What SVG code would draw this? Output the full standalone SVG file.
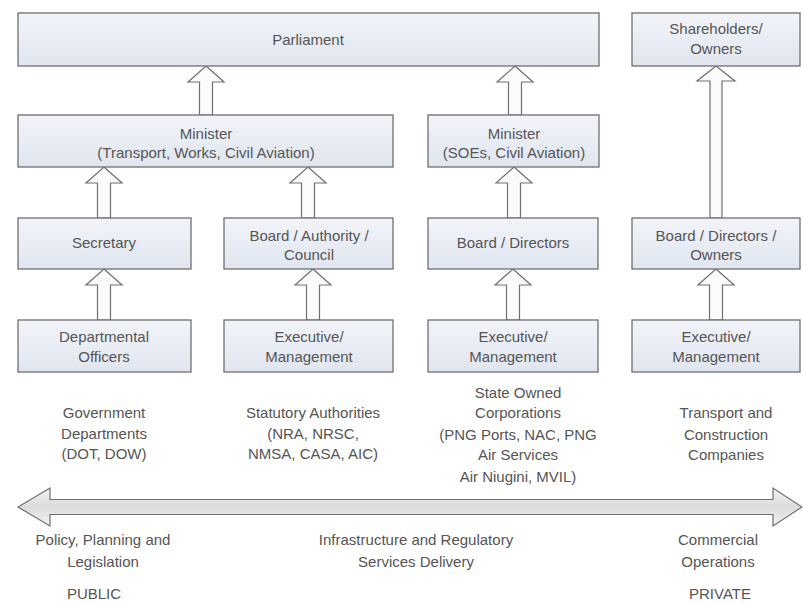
<svg xmlns="http://www.w3.org/2000/svg" width="803" height="602" viewBox="0 0 803 602">
<defs>
<linearGradient id="boxg" x1="0" y1="0" x2="0" y2="1">
<stop offset="0" stop-color="#f2f4f9"/>
<stop offset="1" stop-color="#e0e5ef"/>
</linearGradient>
<linearGradient id="shaftg" x1="0" y1="0" x2="0" y2="1">
<stop offset="0" stop-color="#f2f2f2"/>
<stop offset="0.5" stop-color="#dcdcdc"/>
<stop offset="1" stop-color="#f2f2f2"/>
</linearGradient>
<style>
.box{fill:url(#boxg);stroke:#6f6f6f;stroke-width:1.3}
.arr{fill:#fbfbfb;stroke:#707070;stroke-width:1.2;stroke-linejoin:miter}
text{font-family:"Liberation Sans",Arial,sans-serif;font-size:15px;fill:#555555;text-anchor:middle}
</style>
</defs>
<rect width="803" height="602" fill="#ffffff"/>

<g id="connectors">
<polygon class="arr" points="206,66 224,82 212.5,82 212.5,115 199.5,115 199.5,82 188,82"/>
<polygon class="arr" points="515,66 533,82 521.5,82 521.5,115 508.5,115 508.5,82 497,82"/>
<polygon class="arr" points="716,66 735,81 722,81 722,218 710,218 710,81 697,81"/>
<polygon class="arr" points="104,167 122,183 110.5,183 110.5,218 97.5,218 97.5,183 86,183"/>
<polygon class="arr" points="308,167 326,183 314.5,183 314.5,218 301.5,218 301.5,183 290,183"/>
<polygon class="arr" points="514,167 532,183 520.5,183 520.5,218 507.5,218 507.5,183 496,183"/>
<polygon class="arr" points="104,269 122,285 110.5,285 110.5,320 97.5,320 97.5,285 86,285"/>
<polygon class="arr" points="313,269 331,285 319.5,285 319.5,320 306.5,320 306.5,285 295,285"/>
<polygon class="arr" points="513,269 531,285 519.5,285 519.5,320 506.5,320 506.5,285 495,285"/>
<polygon class="arr" points="716,269 734,285 722.5,285 722.5,320 709.5,320 709.5,285 698,285"/>
</g>

<g id="parliament"><rect class="box" x="18" y="13" width="581" height="53"/><text x="308" y="45">Parliament</text></g>
<g id="shareholders"><rect class="box" x="632" y="13" width="168" height="53"/><text x="716" y="34">Shareholders/</text><text x="716" y="54">Owners</text></g>
<g id="minister1"><rect class="box" x="18" y="115" width="375" height="52"/><text x="206" y="139">Minister</text><text x="206" y="158">(Transport, Works, Civil Aviation)</text></g>
<g id="minister2"><rect class="box" x="428" y="115" width="171" height="52"/><text x="514" y="139">Minister</text><text x="514" y="158">(SOEs, Civil Aviation)</text></g>
<g id="secretary"><rect class="box" x="18" y="218" width="173" height="51"/><text x="104" y="248">Secretary</text></g>
<g id="board-authority"><rect class="box" x="224" y="218" width="169" height="51"/><text x="309" y="241">Board / Authority /</text><text x="309" y="260">Council</text></g>
<g id="board-directors"><rect class="box" x="428" y="218" width="170" height="51"/><text x="513" y="248">Board / Directors</text></g>
<g id="board-owners"><rect class="box" x="632" y="218" width="168" height="51"/><text x="716" y="241">Board / Directors /</text><text x="716" y="260">Owners</text></g>
<g id="dept-officers"><rect class="box" x="18" y="320" width="173" height="52"/><text x="104" y="342">Departmental</text><text x="104" y="362">Officers</text></g>
<g id="exec2"><rect class="box" x="224" y="320" width="169" height="52"/><text x="309" y="342">Executive/</text><text x="309" y="362">Management</text></g>
<g id="exec3"><rect class="box" x="428" y="320" width="170" height="52"/><text x="513" y="342">Executive/</text><text x="513" y="362">Management</text></g>
<g id="exec4"><rect class="box" x="632" y="320" width="168" height="52"/><text x="716" y="342">Executive/</text><text x="716" y="362">Management</text></g>

<g id="spectrum">
<polygon points="18,507 50,488 50,499.5 773,499.5 773,488 802,507 773,526 773,514.5 50,514.5 50,526" fill="url(#shaftg)" stroke="#707070" stroke-width="1.2"/>
</g>

<g id="labels">
<text x="104" y="418">Government</text>
<text x="104" y="439">Departments</text>
<text x="104" y="459">(DOT, DOW)</text>
<text x="313" y="418">Statutory Authorities</text>
<text x="313" y="439">(NRA, NRSC,</text>
<text x="313" y="459">NMSA, CASA, AIC)</text>
<text x="518" y="398">State Owned</text>
<text x="518" y="418">Corporations</text>
<text x="518" y="440">(PNG Ports, NAC, PNG</text>
<text x="518" y="460">Air Services</text>
<text x="518" y="482">Air Niugini, MVIL)</text>
<text x="726" y="418">Transport and</text>
<text x="726" y="440">Construction</text>
<text x="726" y="460">Companies</text>
<text x="103" y="545">Policy, Planning and</text>
<text x="103" y="567">Legislation</text>
<text x="416" y="545">Infrastructure and Regulatory</text>
<text x="416" y="567">Services Delivery</text>
<text x="718" y="545">Commercial</text>
<text x="718" y="567">Operations</text>
<text x="94" y="599">PUBLIC</text>
<text x="720" y="599">PRIVATE</text>
</g>
</svg>
